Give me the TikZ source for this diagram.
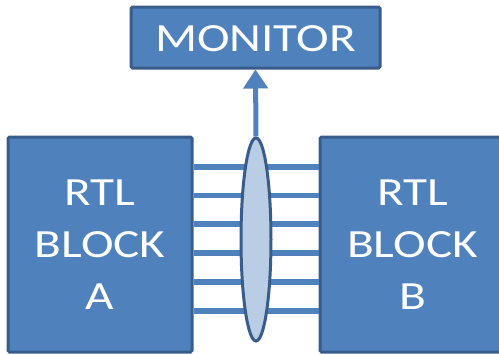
\documentclass[tikz,border=0pt]{standalone}
\usepackage{fontspec}
\setmainfont{Carlito}
\newfontfamily\widefont[FakeStretch=1.23]{Carlito}
\usetikzlibrary{arrows.meta,shapes.geometric}
\definecolor{blk}{HTML}{4F81BD}
\definecolor{bdr}{HTML}{385D8A}
\definecolor{lite}{HTML}{B9CDE5}
\begin{document}
\begin{tikzpicture}[x=1pt,y=-1pt,
  box/.style={draw=bdr,fill=blk,line width=3pt,rounded corners=1.5pt,text=white,
    font=\widefont\fontsize{40}{52}\selectfont,align=center,inner sep=0pt},
  wire/.style={draw=blk,line width=5.5pt},
  bus/.style={draw=bdr,fill=lite,line width=3pt,shape=ellipse,inner sep=0pt}]
\useasboundingbox (0,0) rectangle (499,354);
\clip (0,0) rectangle (499,354);
\node[box,minimum width=249pt,minimum height=61pt,text depth=0pt,text height=27pt] (M) at (255.5,37.5) {MONITOR};
\node[box,minimum width=184pt,minimum height=215pt] (A) at (100,244.5) {RTL\\BLOCK\\A};
\node[box,minimum width=185pt,minimum height=215pt] (B) at (412.5,244.5) {RTL\\BLOCK\\B};
\foreach \y/\n in {167/1,195.5/2,224/3,253/4,282/5,311/6}{
  \coordinate (a\n) at (192,\y);
  \coordinate (b\n) at (320,\y);
  \draw[wire] (A.east |- a\n) -- (B.west |- b\n);
}
\node[bus,minimum width=30pt,minimum height=203pt] (E) at (256,239.5) {};
\draw[draw=blk,line width=5pt,-{Triangle[width=24pt,length=19pt]}] (E.north) -- (M.south);
\end{tikzpicture}
\end{document}
